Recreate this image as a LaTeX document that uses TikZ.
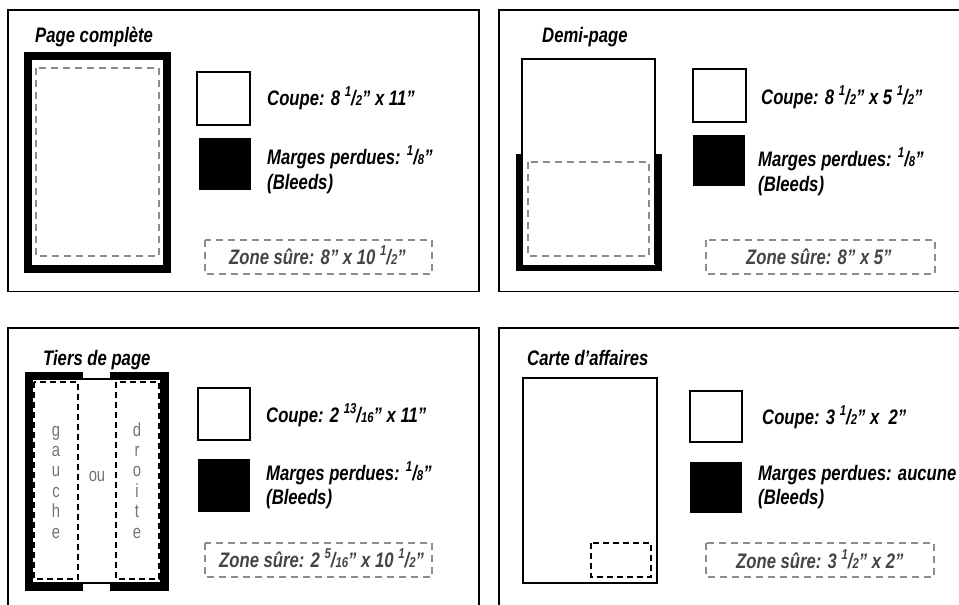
\documentclass[tikz,border=0pt]{standalone}
\usepackage{fontspec}
\usepackage{graphicx}
\newfontfamily\labelfont[FakeStretch=0.795]{Liberation Sans}
\newfontfamily\letterfont[FakeStretch=0.78]{Liberation Sans}
\newcommand\frc[2]{\raisebox{.4em}{\scalebox{.68}{#1}}/\scalebox{.68}{#2}}
\definecolor{safegray}{gray}{0.55}
\definecolor{safetext}{gray}{0.27}
\tikzset{
	panel/.style={line width=1.8pt},
	page/.style={line width=1.3pt},
	bleed/.style={line width=7.5pt},
	bleedthin/.style={line width=6.5pt},
	swatch/.style={line width=1.3pt},
	safe/.style={draw=safegray, line width=1.4pt, dash pattern=on 7pt off 5pt},
	safedark/.style={line width=2.4pt, dash pattern=on 6pt off 4pt},
	title/.style={anchor=base west, inner sep=0pt, font=\labelfont\bfseries\itshape\fontsize{21}{25}\selectfont},
	label/.style={title},
	safelabel/.style={title, text=safetext},
	vletter/.style={anchor=base, inner sep=0pt, text=black!55, font=\letterfont\fontsize{19}{23}\selectfont}
}
\begin{document}
\begin{tikzpicture}[x=1pt,y=-1pt]
	\useasboundingbox (0,0) rectangle (959,605);
	% frames
	\draw[panel] (8,10) rectangle (479,291.5);
	\draw[panel] (965,10) -- (499,10) -- (499,291.5) -- (965,291.5);
	\draw[panel] (8,612) -- (8,328) -- (479,328) -- (479,612);
	\draw[panel] (965,328) -- (499,328) -- (499,612);

	% page complete
	\node[title] (pc-title) at (35,42) {Page complète};
	\draw[line width=8pt] (28,56) rectangle (167,269);
	\draw[safe] (36,68) rectangle (159,256);
	\draw[swatch] (197,72) rectangle (250,125);
	\fill (199,138) rectangle (251,190);
	\node[label] (pc-coupe) at (267,105) {Coupe: 8 \frc{1}{2}” x 11”};
	\node[label] (pc-marges) at (267,164) {Marges perdues: \frc{1}{8}”};
	\node[label] (pc-bleeds) at (267,189) {(Bleeds)};
	\draw[safe] (205,240) rectangle (432,274);
	\node[safelabel] (pc-zone) at (229,264) {Zone sûre: 8” x 10 \frc{1}{2}”};

	% demi-page
	\node[title] (dp-title) at (542,42) {Demi-page};
	\draw[page] (522,264) |- (655,59) -- (655,264);
	\draw[bleedthin, line join=miter] (519.25,154) |- (658.25,267.75) -- (658.25,154);
	\draw[safe] (528,162) rectangle (649,256);
	\draw[swatch] (693,69) rectangle (746,122);
	\fill (693,135) rectangle (745,186);
	\node[label] (dp-coupe) at (761,104) {Coupe: 8 \frc{1}{2}” x 5 \frc{1}{2}”};
	\node[label] (dp-marges) at (758,166) {Marges perdues: \frc{1}{8}”};
	\node[label] (dp-bleeds) at (758,191) {(Bleeds)};
	\draw[safe] (706,240) rectangle (935,274);
	\node[safelabel] (dp-zone) at (746,264) {Zone sûre: 8” x 5”};

	% tiers de page
	\node[title] (tp-title) at (43,365) {Tiers de page};
	\draw[page] (32,379) rectangle (161,583);
	\draw[bleed] (83,375.25) -| (28.25,586.75) -- (83,586.75);
	\draw[bleed] (110,375.25) -| (164.75,586.75) -- (110,586.75);
	\draw[safedark] (34,382) rectangle (78,579);
	\draw[safedark] (116,382) rectangle (159,579);
	\foreach \l [count=\i] in {g,a,u,c,h,e}
		\node[vletter] (left-\i) at (56,436+20.4*\i-20.4) {\l};
	\foreach \l [count=\i] in {d,r,o,i,t,e}
		\node[vletter] (right-\i) at (137,436+20.4*\i-20.4) {\l};
	\node[vletter] (tp-ou) at (97,481) {ou};
	\draw[swatch] (198,388) rectangle (250,440);
	\fill (198,459) rectangle (250,512);
	\node[label] (tp-coupe) at (266,422) {Coupe: 2 \frc{13}{16}” x 11”};
	\node[label] (tp-marges) at (266,480) {Marges perdues: \frc{1}{8}”};
	\node[label] (tp-bleeds) at (266,504) {(Bleeds)};
	\draw[safe] (205,543) rectangle (432,577);
	\node[safelabel] (tp-zone) at (219,567) {Zone sûre: 2 \frc{5}{16}” x 10 \frc{1}{2}”};

	% carte d'affaires
	\node[title] (ca-title) at (527,365) {Carte d’affaires};
	\draw[line width=1.5pt] (523,378) rectangle (657,583);
	\draw[safedark] (591,543) rectangle (651,577);
	\draw[swatch] (690,391) rectangle (742,442);
	\fill (690,462) rectangle (742,513);
	\node[label] (ca-coupe) at (762,424) {Coupe: 3 \frc{1}{2}” x\ \ 2”};
	\node[label] (ca-marges) at (758,480) {Marges perdues: aucune};
	\node[label] (ca-bleeds) at (758,504) {(Bleeds)};
	\draw[safe] (706,543) rectangle (934,577);
	\node[safelabel] (ca-zone) at (736,568) {Zone sûre: 3 \frc{1}{2}” x 2”};
\end{tikzpicture}
\end{document}
